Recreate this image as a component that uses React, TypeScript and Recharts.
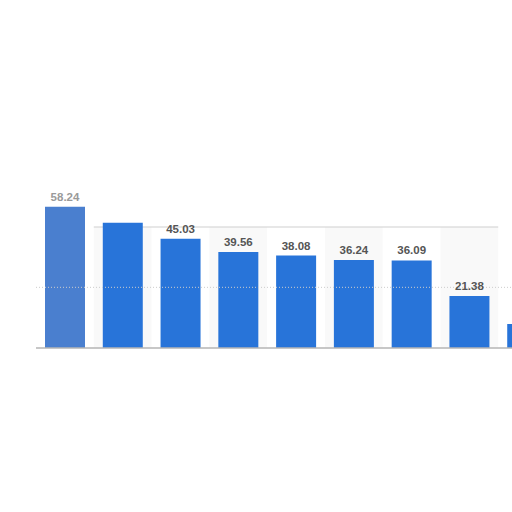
import { BarChart, Bar, XAxis, YAxis, ReferenceLine, ReferenceArea, LabelList, Cell } from "recharts";

const categories = ["c1", "c2", "c3", "c4", "c5", "c6", "c7", "c8", "c9"];
const values = [58.24, 51.6, 45.03, 39.56, 38.08, 36.24, 36.09, 21.38, 9.9];
const shadedBands = ["c2", "c4", "c6", "c8"];

const data = categories.map((name, i) => ({ name, value: values[i] }));

// the 2nd label is smudged out and the last one falls past the edge in the reference
const renderLabel = (props: any) => {
  const { x, y, width, value, index } = props;
  if (index === 1 || index === 8) return null;
  return (
    <text
      x={x + width / 2}
      y={y - 6}
      textAnchor="middle"
      fontFamily="Liberation Sans, Arial, sans-serif"
      fontWeight="bold"
      fontSize={11.5}
      fill={index === 0 ? "#9a9a9a" : "#555555"}
    >
      {value.toFixed(2)}
    </text>
  );
};

export default function App() {
  return (
    <div
      style={{
        position: "absolute",
        left: 0,
        top: 0,
        width: 512,
        height: 512,
        overflow: "hidden",
        background: "#fff",
      }}
    >
      <BarChart
        width={560}
        height={512}
        data={data}
        margin={{ top: 166, right: 4, left: 36, bottom: 164 }}
      >
        <XAxis dataKey="name" hide />
        <YAxis hide domain={[0, 75]} />
        {shadedBands.map((c) => (
          <ReferenceArea key={c} x1={c} x2={c} y1={0} y2={50} fill="#f9f9f9" fillOpacity={1} stroke="none" />
        ))}
        <ReferenceArea x1="c2" x2="c8" y1={49.7} y2={50.1} fill="#cfcfcf" fillOpacity={1} stroke="none" />
        <ReferenceLine y={25} stroke="#cccccc" strokeDasharray="1 2" />
        <ReferenceLine y={0} stroke="#b5b5b5" strokeWidth={1.5} />
        <Bar dataKey="value" barSize={40} fill="#2874d9" isAnimationActive={false}>
          {data.map((d, i) => (
            <Cell key={d.name} fill={i === 0 ? "#4a7fcf" : "#2874d9"} />
          ))}
          <LabelList dataKey="value" content={renderLabel} />
        </Bar>
      </BarChart>
    </div>
  );
}
